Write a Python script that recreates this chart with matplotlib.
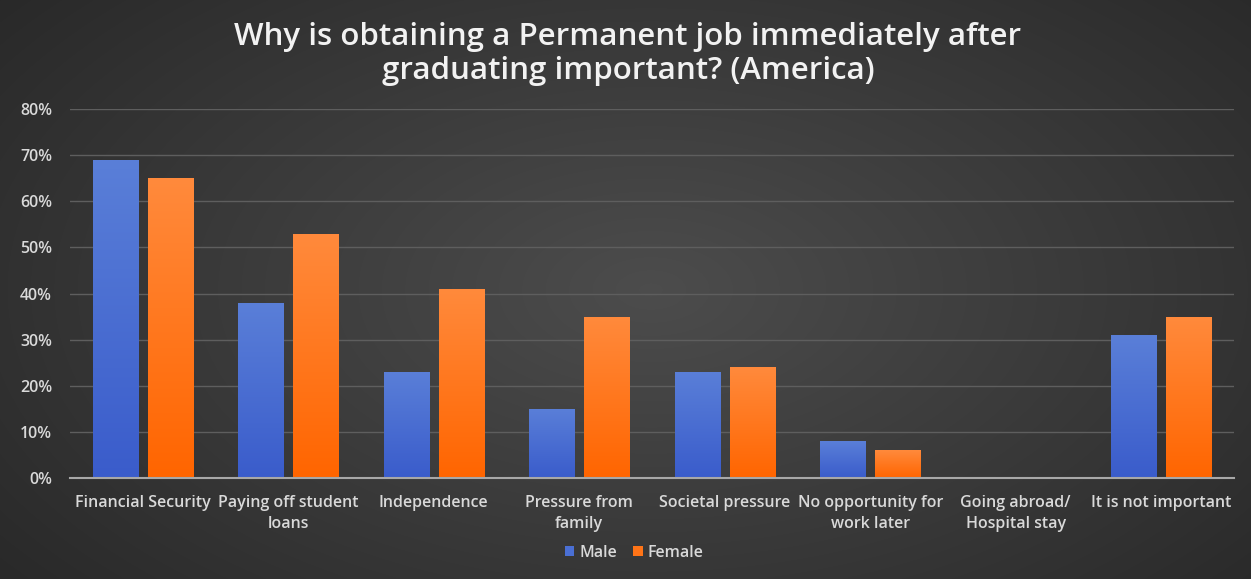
import numpy as np
import matplotlib
matplotlib.use("Agg")
import matplotlib.pyplot as plt
from matplotlib.colors import LinearSegmentedColormap
from matplotlib.patches import Patch

categories = ["Financial Security", "Paying off student\nloans", "Independence",
              "Pressure from\nfamily", "Societal pressure", "No opportunity for\nwork later",
              "Going abroad/\nHospital stay", "It is not important"]
male = [0.69, 0.38, 0.23, 0.15, 0.23, 0.08, 0.0, 0.31]
female = [0.65, 0.53, 0.41, 0.35, 0.24, 0.06, 0.0, 0.35]
series_names = ["Male", "Female"]
yticks = [0, 0.1, 0.2, 0.3, 0.4, 0.5, 0.6, 0.7, 0.8]

W, H = 1251, 579
fig = plt.figure(figsize=(W / 100, H / 100), dpi=100)

# dark radial background
bg = fig.add_axes([0, 0, 1, 1], zorder=-10)
yy, xx = np.mgrid[0:H, 0:W]
r = np.sqrt(((xx - W * 0.52) / (W * 0.62)) ** 2 + ((yy - H * 0.5) / (H * 0.75)) ** 2)
shade = np.clip(0.30 - 0.13 * r, 0.15, 0.30)
bg.imshow(np.dstack([shade] * 3), aspect="auto", extent=[0, 1, 0, 1])
bg.set_axis_off()

ax = fig.add_axes([70 / W, 1 - 478 / H, (1234 - 70) / W, (478 - 109) / H])
ax.patch.set_alpha(0)

x = np.arange(len(categories))
bw = 0.31
gap = 0.07
off = (bw + gap) / 2

blue_cm = LinearSegmentedColormap.from_list("b", ["#3a5ccb", "#5a7fd8"])
orange_cm = LinearSegmentedColormap.from_list("o", ["#ff6500", "#ff8a3c"])

grad = np.linspace(0, 1, 256).reshape(-1, 1)
for vals, dx, cm, base in [(male, -off, blue_cm, "#4a6fd4"), (female, off, orange_cm, "#ff7417")]:
    bars = ax.bar(x + dx, vals, width=bw, color=base, zorder=3)
    for b, v in zip(bars, vals):
        if v <= 0:
            continue
        im = ax.imshow(grad, cmap=cm, origin="lower", aspect="auto",
                       extent=[b.get_x(), b.get_x() + b.get_width(), 0, v], zorder=4)
        im.set_clip_path(b)

ax.set_xlim(-0.5, len(categories) - 0.5)
ax.set_ylim(0, 0.8)
ax.set_yticks(yticks)
ax.set_yticklabels([f"{int(round(t * 100))}%" for t in yticks])
ax.set_xticks(x)
ax.set_xticklabels(categories, linespacing=1.45)
ax.grid(axis="y", color="#5e5e5e", linewidth=1, zorder=0)
ax.set_axisbelow(True)
for s in ["top", "right", "left"]:
    ax.spines[s].set_visible(False)
ax.spines["bottom"].set_color("#a8a8a8")
ax.spines["bottom"].set_linewidth(1.5)
ax.spines["bottom"].set_zorder(5)
ax.tick_params(axis="both", length=0, colors="#d9d9d9", labelsize=11.5)
ax.tick_params(axis="y", pad=13)
ax.tick_params(axis="x", pad=12)
for lbl in ax.get_xticklabels() + ax.get_yticklabels():
    lbl.set_fontfamily("Open Sans")
    lbl.set_fontweight("semibold")
ax.set_xlim(-0.5, len(categories) - 0.5)

fig.text(0.502, 1 - 54 / H, "Why is obtaining a Permanent job immediately after\ngraduating important? (America)",
         ha="center", va="center", color="#f2f2f2", fontsize=22.5, fontfamily="Open Sans",
         fontweight="semibold", linespacing=1.18)

handles = [Patch(facecolor="#4a6fd4"), Patch(facecolor="#ff7417")]
fig.legend(handles, series_names, loc="center", bbox_to_anchor=(634 / W, 1 - 553 / H), ncol=2,
           frameon=False, handlelength=0.6, handleheight=0.6, handletextpad=0.3, columnspacing=1.0,
           prop={"family": "Open Sans", "weight": "semibold", "size": 11.5}, labelcolor="#d9d9d9")

fig.savefig("out.png", dpi=100, facecolor="#333333")
